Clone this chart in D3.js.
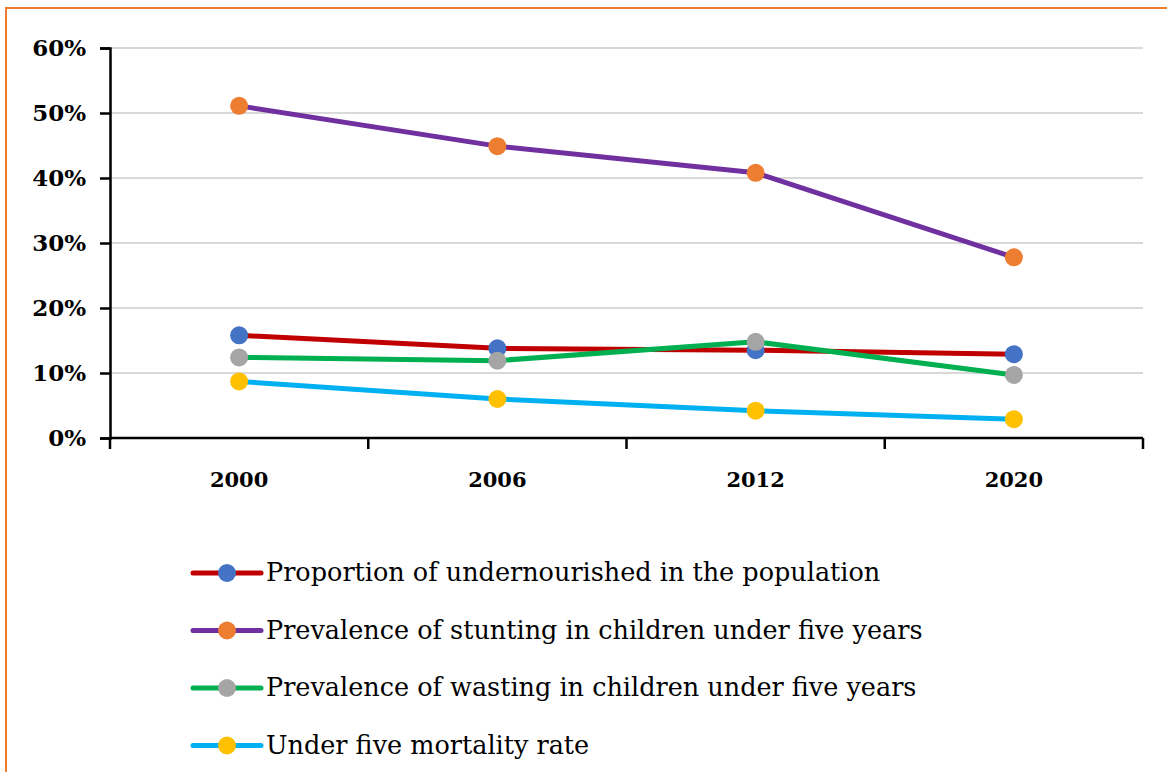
<!DOCTYPE html>
<html>
<head>
<meta charset="utf-8">
<script src="https://cdn.jsdelivr.net/npm/d3@7"></script>
<style>
  body { margin: 0; background: #fff; }
  svg text { font-family: "Palatino Linotype", "Book Antiqua", Palatino, "DejaVu Serif", serif; }
</style>
</head>
<body>
<svg id="chart" width="1167" height="772"></svg>
<script>
const years = ["2000", "2006", "2012", "2020"]
const yTicks = [0, 0.1, 0.2, 0.3, 0.4, 0.5, 0.6]

const seriesNames = [
    "Proportion of undernourished in the population",
    "Prevalence of stunting in children under five years",
    "Prevalence of wasting in children under five years",
    "Under five mortality rate"
]
const undernourished = [0.158, 0.138, 0.135, 0.129]
const stunting = [0.511, 0.449, 0.408, 0.278]
const wasting = [0.124, 0.119, 0.148, 0.097]
const mortality = [0.087, 0.060, 0.042, 0.029]

const lineColors = ["#C00000", "#7030A0", "#00B050", "#00B0F0"]
const dotColors = ["#4472C4", "#ED7D31", "#A5A5A5", "#FFC000"]

const series = [undernourished, stunting, wasting, mortality].map((vals, i) => ({
    id: seriesNames[i],
    values: vals.map((v, j) => ({year: years[j], value: v}))
}))

const svg = d3.select("#chart")

// orange frame
svg.append("rect")
    .attr("x", 6).attr("y", 8)
    .attr("width", 1200).attr("height", 800)
    .attr("fill", "none")
    .attr("stroke", "#ED7D31")
    .attr("stroke-width", 2)

const margin = {top: 48, left: 110, right: 24, bottom: 334}
const width = 1167 - margin.left - margin.right,
    height = 772 - margin.top - margin.bottom

const g = svg.append("g").attr("transform", "translate(" + margin.left + "," + margin.top + ")")

const x = d3.scaleBand().domain(years).range([0, width])
const y = d3.scaleLinear().domain([0, 0.6]).range([height, 0])

// gridlines
g.append("g")
    .selectAll("line")
    .data(yTicks.slice(1))
    .enter().append("line")
    .attr("x1", 0).attr("x2", width)
    .attr("y1", d => y(d)).attr("y2", d => y(d))
    .attr("stroke", "#d9d9d9")
    .attr("stroke-width", 2)

// y axis
const yAxis = g.append("g")
    .call(d3.axisLeft(y).tickValues(yTicks).tickFormat(d3.format(".0%")).tickSize(10).tickPadding(14))
yAxis.selectAll("line, path").attr("stroke", "#000").attr("stroke-width", 2.5)
yAxis.selectAll("text")
    .style("font-size", "23px").style("font-weight", "bold").attr("fill", "#000")

// x axis with ticks at category boundaries
const xAxis = g.append("g").attr("transform", "translate(0," + height + ")")
xAxis.append("line")
    .attr("x1", 0).attr("x2", width)
    .attr("stroke", "#000").attr("stroke-width", 2.5)
xAxis.selectAll(".bnd")
    .data(years.map(d => x(d)).concat([width]))
    .enter().append("line")
    .attr("class", "bnd")
    .attr("x1", d => d).attr("x2", d => d)
    .attr("y1", 0).attr("y2", 11)
    .attr("stroke", "#000").attr("stroke-width", 2.5)
xAxis.selectAll("text")
    .data(years)
    .enter().append("text")
    .attr("x", d => x(d) + x.bandwidth() / 2)
    .attr("y", 49)
    .attr("text-anchor", "middle")
    .style("font-size", "21px").style("font-weight", "bold")
    .text(d => d)

const line = d3.line()
    .x(d => x(d.year) + x.bandwidth() / 2)
    .y(d => y(d.value))

const indicator = g.selectAll(".indicator")
    .data(series)
    .enter().append("g")
    .attr("class", "indicator")

indicator.append("path")
    .attr("d", d => line(d.values))
    .style("stroke", (d, i) => lineColors[i])
    .style("fill", "none")
    .style("stroke-width", 5)
    .style("stroke-linejoin", "round")

indicator.selectAll("circle")
    .data((d, i) => d.values.map(v => ({...v, c: dotColors[i]})))
    .enter().append("circle")
    .attr("cx", d => x(d.year) + x.bandwidth() / 2)
    .attr("cy", d => y(d.value))
    .attr("r", 9)
    .style("fill", d => d.c)

// legend
const legend = svg.append("g").attr("transform", "translate(193,573)")
const item = legend.selectAll(".item")
    .data(seriesNames)
    .enter().append("g")
    .attr("class", "item")
    .attr("transform", (d, i) => "translate(0," + i * 57.5 + ")")

item.append("line")
    .attr("x1", 0).attr("x2", 68)
    .attr("stroke", (d, i) => lineColors[i])
    .attr("stroke-width", 5)
    .attr("stroke-linecap", "round")
item.append("circle")
    .attr("cx", 34).attr("r", 9)
    .style("fill", (d, i) => dotColors[i])
item.append("text")
    .attr("x", 73)
    .attr("dy", "0.33em")
    .style("font-size", "25.5px")
    .text(d => d)
</script>
</body>
</html>
